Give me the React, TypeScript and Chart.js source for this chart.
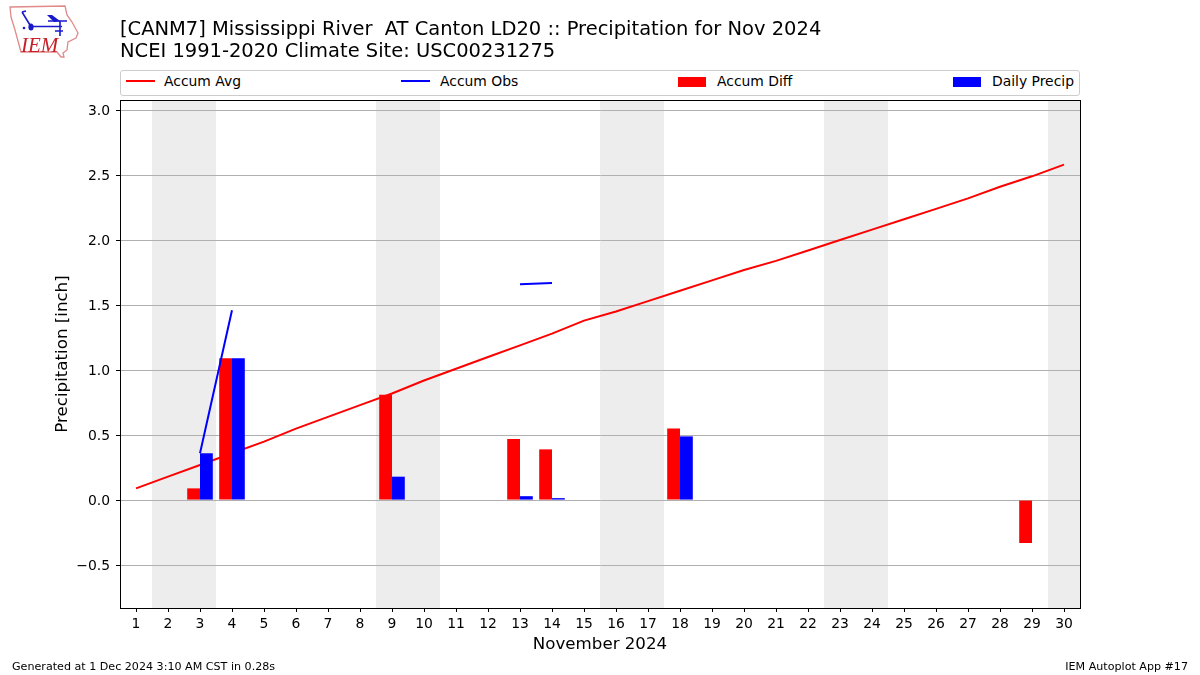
import React, { useEffect, useRef } from "react";
import { Chart, registerables } from "chart.js";

Chart.register(...registerables);

const days = ["1","2","3","4","5","6","7","8","9","10","11","12","13","14","15","16","17","18","19","20","21","22","23","24","25","26","27","28","29","30"];
const accumAvg = [0.09,0.18,0.27,0.36,0.45,0.55,0.64,0.73,0.82,0.92,1.01,1.10,1.19,1.28,1.38,1.45,1.53,1.61,1.69,1.77,1.84,1.92,2.00,2.08,2.16,2.24,2.32,2.41,2.49,2.58];
const accumObs = [null,null,0.36,1.46,null,null,null,null,null,null,null,null,1.66,1.67,null,null,null,null,null,null,null,null,null,null,null,null,null,null,null,null];
const accumDiff = [null,null,0.09,1.09,null,null,null,null,0.81,null,null,null,0.47,0.39,null,null,null,0.55,null,null,null,null,null,null,null,null,null,null,-0.33,null];
const dailyPrecip = [null,null,0.36,1.09,null,null,null,null,0.18,null,null,null,0.03,0.015,null,null,null,0.49,null,null,null,null,null,null,null,null,null,null,null,null];
const weekendDays = [2,3,9,10,16,17,23,24,30];
const yTickValues = [-0.5,0,0.5,1,1.5,2,2.5,3];
const yTickLabels = ["−0.5","0.0","0.5","1.0","1.5","2.0","2.5","3.0"];
const titleLines = ["[CANM7] Mississippi River  AT Canton LD20 :: Precipitation for Nov 2024","NCEI 1991-2020 Climate Site: USC00231275"];
const legendEntries = [
  { label: "Accum Avg", color: "#ff0000", kind: "line", mark: 126, text: 164 },
  { label: "Accum Obs", color: "#0000ff", kind: "line", mark: 401, text: 440 },
  { label: "Accum Diff", color: "#ff0000", kind: "box", mark: 678, text: 717 },
  { label: "Daily Precip", color: "#0000ff", kind: "box", mark: 953, text: 992 },
];

const FONT = "'DejaVu Sans', sans-serif";

const framePlugin = {
  id: "frame",
  beforeDraw(chart: any) {
    const { ctx, chartArea: a, scales } = chart;
    ctx.save();
    ctx.fillStyle = "#ededed";
    weekendDays.forEach((d) => {
      const x0 = scales.x.getPixelForValue(d - 1.5);
      const x1 = scales.x.getPixelForValue(d - 0.5);
      ctx.fillRect(x0, a.top, x1 - x0, a.bottom - a.top);
    });
    ctx.restore();
  },
  afterDraw(chart: any) {
    const { ctx, chartArea: a } = chart;
    ctx.save();
    ctx.strokeStyle = "#000";
    ctx.lineWidth = 1;
    ctx.strokeRect(a.left + 0.5, a.top + 0.5, a.right - a.left, a.bottom - a.top);
    ctx.restore();
  },
};

function Logo() {
  return (
    <svg width={90} height={62} style={{ position: "absolute", left: 0, top: 0 }}>
      <path d="M10 7 L65 6 L67 15 L72 22 L78 33 L76 38 L68 42 L67 50 L63 53 L64 57 L61 57 L57 52 L21 52 L15 30 L11 17 Z" fill="none" stroke="#e08a8a" strokeWidth={1.3} />
      <path d="M22 12 L30 25 M31 26.5 L62 26.5 M60 21 L60 36 M48 21 L67 21 M22 12 L26 11 M55 31 L63 31" fill="none" stroke="#1a1acc" strokeWidth={1.6} />
      <path d="M47 15 L52 15 L60 21 L54 22 Z" fill="#1a1acc" />
      <ellipse cx={31} cy={27} rx={2.6} ry={3.6} fill="#1a1acc" />
      <circle cx={24} cy={28} r={1.3} fill="#1a1acc" />
      <text x={21} y={52} fontFamily="'Liberation Serif', serif" fontStyle="italic" fontSize={21} fill="#c8202a">IEM</text>
    </svg>
  );
}

export default function App() {
  const ref = useRef<HTMLCanvasElement>(null);
  useEffect(() => {
    document.body.style.margin = "0";
    const chart = new Chart(ref.current as HTMLCanvasElement, {
      type: "bar",
      plugins: [framePlugin],
      data: {
        labels: days,
        datasets: [
          { type: "line", label: "Accum Avg", data: accumAvg, borderColor: "#ff0000", borderWidth: 2, pointRadius: 0, tension: 0, order: 4 },
          { type: "bar", label: "Accum Diff", data: accumDiff, backgroundColor: "#ff0000", borderWidth: 0, categoryPercentage: 0.8, barPercentage: 1, order: 2 },
          { type: "bar", label: "Daily Precip", data: dailyPrecip, backgroundColor: "#0000ff", borderWidth: 0, categoryPercentage: 0.8, barPercentage: 1, order: 3 },
          { type: "line", label: "Accum Obs", data: accumObs, borderColor: "#0000ff", borderWidth: 2, pointRadius: 0, tension: 0, spanGaps: false, order: 1 },
        ],
      } as any,
      options: {
        responsive: false,
        animation: false,
        layout: { padding: { top: 100, right: 120, bottom: 0, left: 0 } },
        plugins: { legend: { display: false }, title: { display: false }, tooltip: { enabled: false } },
        scales: {
          x: {
            type: "category",
            offset: true,
            afterFit(s: any) { s.height = 67; },
            grid: { display: true, offset: false, drawOnChartArea: false, drawTicks: true, tickLength: 4, tickColor: "#000", tickWidth: 1 },
            border: { color: "#000" },
            ticks: { autoSkip: false, maxRotation: 0, minRotation: 0, color: "#000", padding: 4, font: { family: FONT, size: 13.9 } },
            title: { display: true, text: "November 2024", color: "#000", font: { family: FONT, size: 16.67 }, padding: { top: 0, bottom: 20 } },
          },
          y: {
            type: "linear",
            min: -0.83,
            max: 3.077,
            afterFit(s: any) { s.width = 120; },
            afterBuildTicks(s: any) { s.ticks = yTickValues.map((value) => ({ value })); },
            grid: { color: "#b0b0b0", lineWidth: 1, tickLength: 4, tickColor: "#000", tickWidth: 1 },
            border: { color: "#000" },
            ticks: {
              color: "#000",
              padding: 6,
              labelOffset: 1,
              font: { family: FONT, size: 13.9 },
              callback: (v: any) => yTickLabels[yTickValues.indexOf(Number(v))],
            },
            title: { display: true, text: "Precipitation [inch]", color: "#000", font: { family: FONT, size: 16.67 }, padding: { top: 53, bottom: 0 } },
          },
        },
      },
    } as any);
    return () => chart.destroy();
  }, []);

  return (
    <div style={{ position: "absolute", left: 0, top: 0, width: 1200, height: 675, background: "#fff", fontFamily: FONT, color: "#000", overflow: "hidden" }}>
      <canvas ref={ref} width={1200} height={675} style={{ position: "absolute", left: 0, top: 0, display: "block" }} />
      <Logo />
      {titleLines.map((t, i) => (
        <div key={i} style={{ position: "absolute", left: 120, top: 17 + i * 22, fontSize: 19.48, lineHeight: "24px", whiteSpace: "pre" }}>{t}</div>
      ))}
      <div style={{ position: "absolute", left: 120, top: 70, width: 958, height: 24, border: "1px solid #cccccc", borderRadius: 3, background: "#fff" }} />
      {legendEntries.map((e) => (
        <React.Fragment key={e.label}>
          <div style={e.kind === "line"
            ? { position: "absolute", left: e.mark, top: 80, width: 29, height: 2, background: e.color }
            : { position: "absolute", left: e.mark, top: 77, width: 28, height: 10, background: e.color }} />
          <div style={{ position: "absolute", left: e.text, top: 72, fontSize: 13.9, lineHeight: "18px", whiteSpace: "pre" }}>{e.label}</div>
        </React.Fragment>
      ))}
      <div style={{ position: "absolute", left: 12, top: 660, fontSize: 11.12, lineHeight: "14px" }}>Generated at 1 Dec 2024 3:10 AM CST in 0.28s</div>
      <div style={{ position: "absolute", right: 12, top: 660, fontSize: 11.12, lineHeight: "14px" }}>IEM Autoplot App #17</div>
    </div>
  );
}
